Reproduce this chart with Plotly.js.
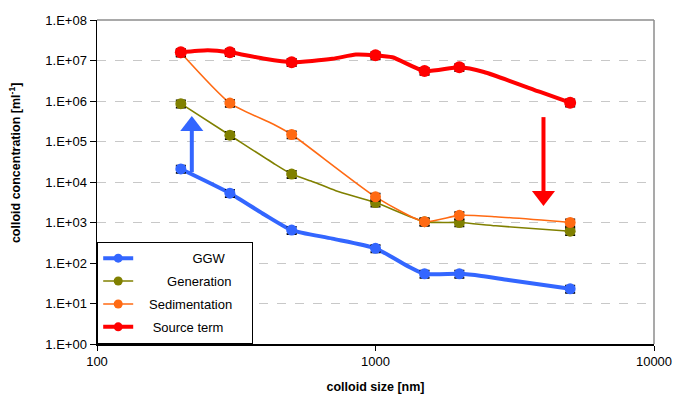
<!DOCTYPE html>
<html>
<head>
<meta charset="utf-8">
<script src="https://cdn.plot.ly/plotly-3.0.1.min.js"></script>
<style>
  html, body { margin: 0; padding: 0; background: #fff; }
  #chart { width: 679px; height: 394px; }
</style>
</head>
<body>
<div id="chart"></div>
<script>
// ---- Data ----
var sizes = [200, 300, 500, 1000, 1500, 2000, 5000];

var ggw           = [2.1e4, 5.3e3, 6.5e2, 2.3e2, 54, 54, 23];
var generation    = [8.6e5, 1.43e5, 1.57e4, 3.1e3, 1.05e3, 1.0e3, 6.1e2];
var sedimentation = [1.55e7, 8.9e5, 1.49e5, 4.3e3, 1.05e3, 1.5e3, 1.0e3];
var sourceTerm    = [1.6e7, 1.6e7, 9.1e6, 1.34e7, 5.5e6, 6.8e6, 9.1e5];

// smoothed connecting curves (denser points)
var ggwCurveX = [200, 300, 400, 500, 700, 1000, 1300, 1500, 2000, 2400, 3000, 5000];
var ggwCurveY = [2.1e4, 5.3e3, 1.55e3, 6.5e2, 4.0e2, 2.3e2, 85, 54, 54, 48, 38, 23];

var genCurveX = [200, 300, 430, 500, 600, 720, 1000, 1500, 2000, 2700, 5000];
var genCurveY = [8.6e5, 1.43e5, 2.9e4, 1.57e4, 1.0e4, 6.1e3, 3.1e3, 1.05e3, 1.0e3, 8.3e2, 6.1e2];

var sedCurveX = [200, 300, 430, 500, 1000, 1500, 2000, 2700, 5000];
var sedCurveY = [1.55e7, 8.9e5, 2.67e5, 1.49e5, 4.3e3, 1.05e3, 1.5e3, 1.39e3, 1.0e3];

var srcCurveX = [200, 250, 300, 400, 500, 700, 850, 1000, 1150, 1500, 2000, 2450, 3900, 5000];
var srcCurveY = [1.6e7, 1.8e7, 1.6e7, 1.1e7, 9.1e6, 1.1e7, 1.4e7, 1.34e7, 1.2e7, 5.5e6, 6.8e6, 5.2e6, 1.67e6, 9.1e5];

// arrows (shaft start -> head centre)
var blueArrowX = [219, 219];
var blueArrowY = [1.75e4, 2.4e5];
var redArrowX  = [4010, 4010];
var redArrowY  = [4.0e5, 4.5e3];

var seriesNames = ['GGW', 'Generation', 'Sedimentation', 'Source term'];
var legendLabels = [
  '\u00A0'.repeat(15) + 'GGW',
  '\u00A0'.repeat(8) + 'Generation',
  '\u00A0'.repeat(3) + 'Sedimentation' + '\u00A0'.repeat(4),
  '\u00A0'.repeat(4) + 'Source term'
];

var xTickVals = [100, 1000, 10000];
var xTickText = ['100', '1000', '10000'];
var yTickVals = [1e0, 1e1, 1e2, 1e3, 1e4, 1e5, 1e6, 1e7, 1e8];
var yTickText = ['1.E+00', '1.E+01', '1.E+02', '1.E+03', '1.E+04', '1.E+05', '1.E+06', '1.E+07', '1.E+08'];

var colors = ['#3366FF', '#808000', '#FF6A13', '#FF0000'];
var lineWidths = [4, 1.6, 1.6, 4];
var markerSizes = [11, 11, 11, 12];

var curves = [
  [ggwCurveX, ggwCurveY],
  [genCurveX, genCurveY],
  [sedCurveX, sedCurveY],
  [srcCurveX, srcCurveY]
];
var points = [ggw, generation, sedimentation, sourceTerm];

var traces = [];
// lines
for (var i = 0; i < 4; i++) {
  traces.push({
    type: 'scatter', mode: 'lines',
    x: curves[i][0], y: curves[i][1],
    line: {color: colors[i], width: lineWidths[i], shape: 'spline', smoothing: 0.6},
    showlegend: false, hoverinfo: 'skip'
  });
}
// markers with error bars
for (var j = 0; j < 4; j++) {
  traces.push({
    type: 'scatter', mode: 'markers',
    x: sizes, y: points[j], name: seriesNames[j],
    marker: {color: colors[j], size: markerSizes[j]},
    error_y: {type: 'percent', value: 20, color: '#000', thickness: 1.8, width: 5},
    showlegend: false
  });
}
// arrows: shaft + triangular head
traces.push({
  type: 'scatter', mode: 'lines', x: blueArrowX, y: blueArrowY,
  line: {color: '#3366FF', width: 4}, showlegend: false, hoverinfo: 'skip'
});
traces.push({
  type: 'scatter', mode: 'markers', x: [blueArrowX[1]], y: [blueArrowY[1]],
  marker: {symbol: 'triangle-up', size: 20, color: '#3366FF', line: {width: 0}},
  showlegend: false, hoverinfo: 'skip'
});
traces.push({
  type: 'scatter', mode: 'lines', x: redArrowX, y: redArrowY,
  line: {color: '#FF0000', width: 4}, showlegend: false, hoverinfo: 'skip'
});
traces.push({
  type: 'scatter', mode: 'markers', x: [redArrowX[1]], y: [redArrowY[1]],
  marker: {symbol: 'triangle-down', size: 20, color: '#FF0000', line: {width: 0}},
  showlegend: false, hoverinfo: 'skip'
});
// legend entries
for (var k = 0; k < 4; k++) {
  traces.push({
    type: 'scatter', mode: 'lines+markers',
    x: [null], y: [null], name: legendLabels[k],
    legendgroup: 'g' + k,
    line: {color: colors[k], width: lineWidths[k]},
    marker: {color: colors[k], size: 9},
    showlegend: true
  });
}

var layout = {
  width: 679, height: 394,
  margin: {l: 97, r: 25, t: 20, b: 50},
  paper_bgcolor: '#fff', plot_bgcolor: '#fff',
  font: {family: 'Arial, "Liberation Sans", sans-serif', color: '#000', size: 13},
  showlegend: true,
  legend: {
    x: 0, y: 0, xanchor: 'left', yanchor: 'bottom',
    bgcolor: '#fff', bordercolor: '#000', borderwidth: 1.2,
    font: {size: 13, color: '#000'},
    tracegroupgap: 3,
    traceorder: 'grouped'
  },
  xaxis: {
    type: 'log', range: [2, 4],
    tickvals: xTickVals, ticktext: xTickText,
    ticks: 'outside', ticklen: 5, tickcolor: '#000', tickwidth: 1,
    showline: true, linecolor: '#000', linewidth: 1.5,
    showgrid: false, zeroline: false,
    tickfont: {size: 13},
    title: {text: 'colloid size [nm]', font: {size: 12.5, weight: 'bold'}, standoff: 17}
  },
  yaxis: {
    type: 'log', range: [0, 8],
    tickvals: yTickVals, ticktext: yTickText,
    ticks: 'outside', ticklen: 6, tickcolor: '#000', tickwidth: 1,
    showline: true, linecolor: '#000', linewidth: 1.5,
    showgrid: true, gridcolor: '#C8C8C8', griddash: 'dash', gridwidth: 1,
    zeroline: false,
    tickfont: {size: 13}
  },
  shapes: [
    {type: 'line', xref: 'paper', yref: 'paper', x0: 0, x1: 1, y0: 1, y1: 1, line: {color: '#8C8C8C', width: 1.5}},
    {type: 'line', xref: 'paper', yref: 'paper', x0: 1, x1: 1, y0: 0, y1: 1, line: {color: '#8C8C8C', width: 1.5}}
  ],
  annotations: [
    {
      text: 'colloid concentration [ml<sup>-1</sup>]', textangle: -90,
      xref: 'paper', yref: 'paper', x: -0.148, y: 0.56,
      xanchor: 'center', yanchor: 'middle', showarrow: false,
      font: {size: 12.5, weight: 'bold'}
    }
  ]
};

Plotly.newPlot('chart', traces, layout, {displayModeBar: false, staticPlot: true});
</script>
</body>
</html>
